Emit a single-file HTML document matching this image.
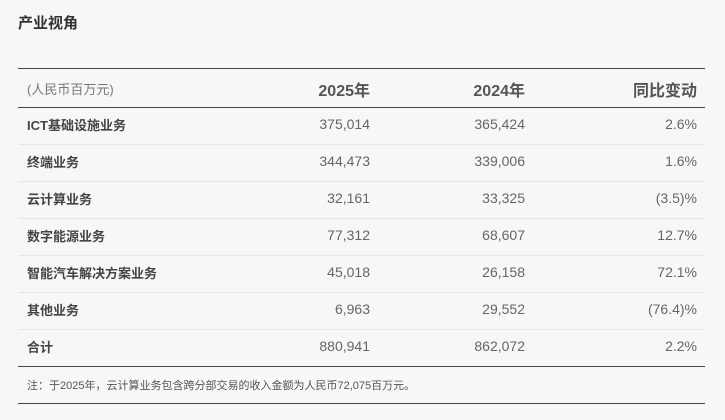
<!DOCTYPE html>
<html><head><meta charset="utf-8"><style>
body{margin:0;width:725px;height:420px;background:#f7f7f7;font-family:"Liberation Sans","Noto Sans CJK SC",sans-serif;color:#555;position:relative;overflow:hidden}
.t{position:absolute;white-space:nowrap}
.title{left:18px;top:12px;font-size:15px;font-weight:bold;color:#333}
.line{position:absolute;left:18px;width:687px;height:1px;background:#444}
.sep{position:absolute;left:18px;width:687px;height:1px;background:#e6e6e6}
.lab{left:27px;font-size:13px;font-weight:bold;color:#444}
.num{font-size:14px;color:#666;text-align:right}
.c1{right:355px}.c2{right:200px}.c3{right:28px}
.h{font-size:16px;font-weight:bold;color:#555}
</style></head><body>
<div class="t title">产业视角</div>
<div class="line" style="top:68px"></div>
<div class="t" style="left:27px;top:79px;font-size:13px;color:#777">(人民币百万元)</div>
<div class="t h c1" style="top:77px">2025年</div>
<div class="t h c2" style="top:77px">2024年</div>
<div class="t h c3" style="top:77px">同比变动</div>
<div class="line" style="top:107px"></div>

<div class="t lab" style="top:115px">ICT基础设施业务</div><div class="t num c1" style="top:116px">375,014</div><div class="t num c2" style="top:116px">365,424</div><div class="t num c3" style="top:116px">2.6%</div>
<div class="sep" style="top:144px"></div>
<div class="t lab" style="top:152px">终端业务</div><div class="t num c1" style="top:153px">344,473</div><div class="t num c2" style="top:153px">339,006</div><div class="t num c3" style="top:153px">1.6%</div>
<div class="sep" style="top:181px"></div>
<div class="t lab" style="top:189px">云计算业务</div><div class="t num c1" style="top:190px">32,161</div><div class="t num c2" style="top:190px">33,325</div><div class="t num c3" style="top:190px">(3.5)%</div>
<div class="sep" style="top:218px"></div>
<div class="t lab" style="top:226px">数字能源业务</div><div class="t num c1" style="top:227px">77,312</div><div class="t num c2" style="top:227px">68,607</div><div class="t num c3" style="top:227px">12.7%</div>
<div class="sep" style="top:255px"></div>
<div class="t lab" style="top:263px">智能汽车解决方案业务</div><div class="t num c1" style="top:264px">45,018</div><div class="t num c2" style="top:264px">26,158</div><div class="t num c3" style="top:264px">72.1%</div>
<div class="sep" style="top:292px"></div>
<div class="t lab" style="top:300px">其他业务</div><div class="t num c1" style="top:301px">6,963</div><div class="t num c2" style="top:301px">29,552</div><div class="t num c3" style="top:301px">(76.4)%</div>
<div class="sep" style="top:329px"></div>
<div class="t lab" style="top:337px">合计</div><div class="t num c1" style="top:338px">880,941</div><div class="t num c2" style="top:338px">862,072</div><div class="t num c3" style="top:338px">2.2%</div>
<div class="line" style="top:366px"></div>
<div class="t" style="left:27px;top:377px;font-size:11px;color:#555">注：于2025年，云计算业务包含跨分部交易的收入金额为人民币72,075百万元。</div>
<div class="line" style="top:403px"></div>
</body></html>
